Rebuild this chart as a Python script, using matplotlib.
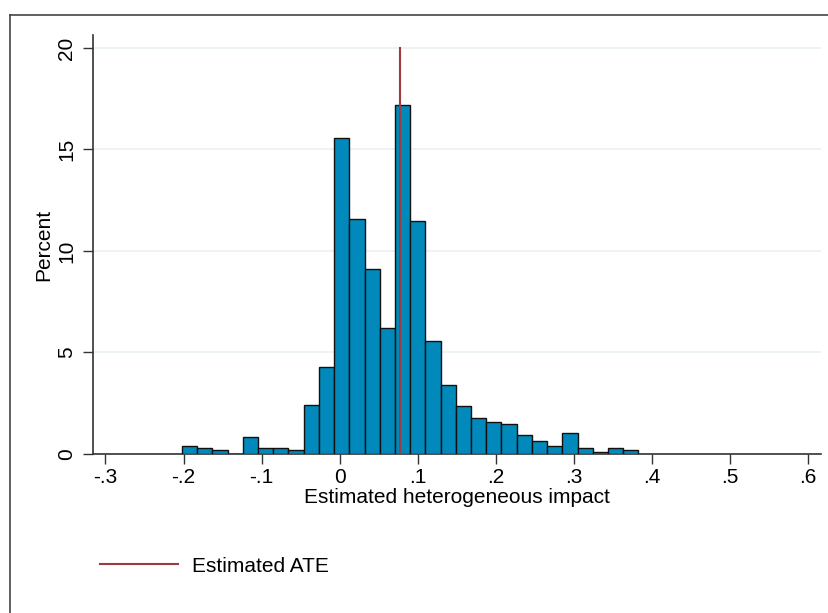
import numpy as np
import matplotlib.pyplot as plt
from matplotlib.lines import Line2D

plt.rcParams['font.family'] = ['Liberation Sans', 'DejaVu Sans']

# histogram bins (left edges) and percent heights
bin_start = -0.202
bin_width = 0.0195
percent = [0.38, 0.28, 0.18, 0.0, 0.84, 0.28, 0.28, 0.18, 2.40, 4.30,
           15.58, 11.58, 9.11, 6.19, 17.21, 11.48, 5.57, 3.38, 2.38, 1.76,
           1.56, 1.46, 0.92, 0.64, 0.38, 1.02, 0.28, 0.11, 0.28, 0.18]
ate = 0.078

xticks = [-0.3, -0.2, -0.1, 0.0, 0.1, 0.2, 0.3, 0.4, 0.5, 0.6]
xlabels = ['-.3', '-.2', '-.1', '0', '.1', '.2', '.3', '.4', '.5', '.6']
yticks = [0, 5, 10, 15, 20]

bar_color = '#0089ba'
ate_color = '#9e3a3f'

fig = plt.figure(figsize=(8.29, 6.13), dpi=100)
ax = fig.add_axes([93 / 829, 1 - 454 / 613, (821 - 93) / 829, (454 - 35) / 613])

lefts = bin_start + bin_width * np.arange(len(percent))
ax.bar(lefts, percent, width=bin_width, align='edge', color=bar_color,
       edgecolor='#111111', linewidth=1.0, zorder=3)
ax.plot([ate, ate], [0, 20], color=ate_color, linewidth=1.5, zorder=4)

ax.set_xlim(-0.316, 0.617)
ax.set_ylim(0, 20.64)
ax.set_xticks(xticks)
ax.set_xticklabels(xlabels)
ax.set_yticks(yticks)
ax.set_yticklabels([str(t) for t in yticks], rotation=90, va='center')
ax.tick_params(axis='both', direction='out', length=7, width=1, color='#333333',
               labelsize=15, pad=3)
ax.tick_params(axis='y', pad=5)
ax.grid(axis='y', color='#eaf1f3', linewidth=1.2, zorder=0)

for side in ['top', 'right']:
    ax.spines[side].set_visible(False)
for side in ['left', 'bottom']:
    ax.spines[side].set_color('#333333')
    ax.spines[side].set_linewidth(1.2)

ax.set_xlabel('Estimated heterogeneous impact', fontsize=15, labelpad=1)
ax.set_ylabel('Percent', fontsize=15, labelpad=3)

# legend below the plot
fig.legend(handles=[Line2D([0], [0], color=ate_color, linewidth=1.5)],
           labels=['Estimated ATE'], loc='center left',
           bbox_to_anchor=(81 / 829, 1 - 566 / 613), frameon=False,
           fontsize=15, handlelength=3.75, handletextpad=0.67)

# outer graph border (top and left visible)
fig.add_artist(Line2D([10.5 / 829, 10.5 / 829], [0, 1 - 14.5 / 613],
                      transform=fig.transFigure, color='#444444', linewidth=1.2))
fig.add_artist(Line2D([10.5 / 829, 1], [1 - 14.5 / 613, 1 - 14.5 / 613],
                      transform=fig.transFigure, color='#444444', linewidth=1.2))

fig.savefig('out.png', dpi=100)
